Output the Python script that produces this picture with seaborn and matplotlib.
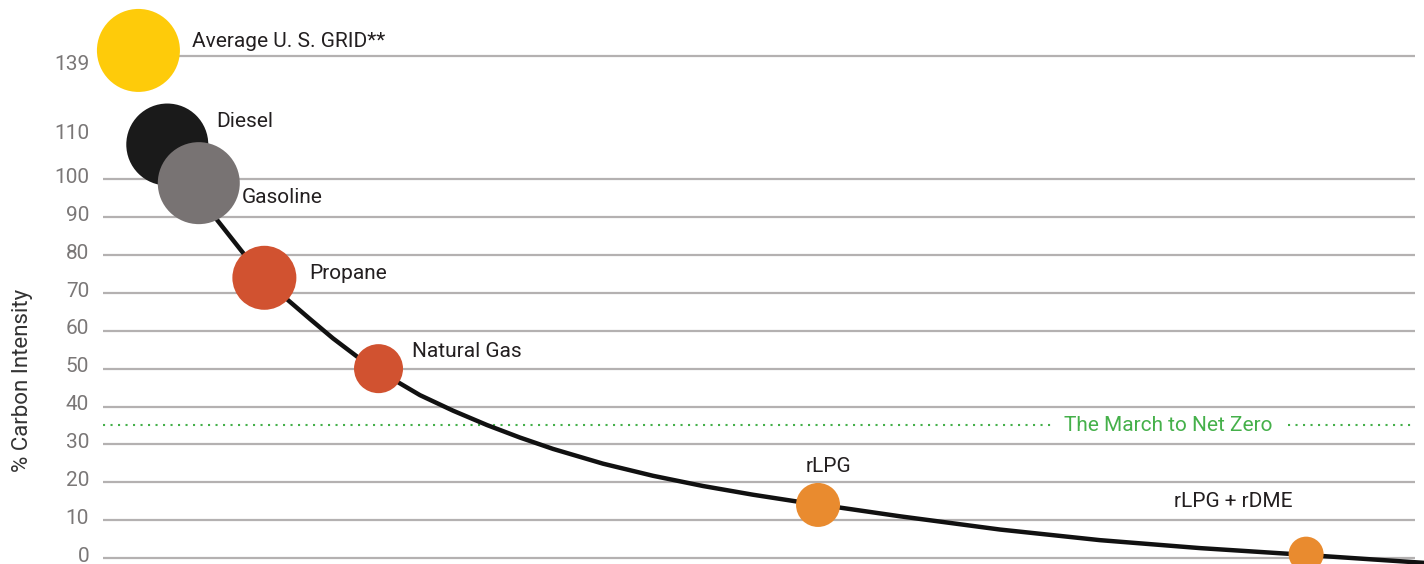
import numpy as np
import pandas as pd
import matplotlib
matplotlib.use("Agg")
import matplotlib.pyplot as plt
import matplotlib.transforms as mtransforms
import seaborn as sns

# --- data -------------------------------------------------------------
fuels = ["Average U. S. GRID**", "Diesel", "Gasoline", "Propane",
         "Natural Gas", "rLPG", "rLPG + rDME"]
fuel_x = [2.7, 4.9, 7.3, 12.3, 21.0, 54.5, 91.7]          # position along the path to net zero
carbon_intensity = [141, 108, 99, 74, 50, 14, 1]           # % carbon intensity

# trend curve traced through the fuels
curve_x = [4.88, 7.32, 8.69, 10.67, 12.35, 14.10, 15.78, 17.53, 19.36, 20.96,
           22.64, 24.16, 26.68, 29.27, 31.78, 34.30, 38.11, 41.92, 45.73,
           49.54, 52.90, 54.50, 56.17, 60.75, 68.37, 75.99, 83.61, 91.69,
           96.80, 99.85, 100.69]
curve_y = [108, 99, 89.3, 80.6, 74, 68.1, 63.1, 58.0, 53.2, 49.6,
           46.1, 43.0, 38.9, 35.1, 31.8, 28.8, 24.9, 21.7, 19.0,
           16.7, 14.9, 14.1, 13.3, 11.0, 7.5, 4.7, 2.6, 0.8,
           -0.4, -1.1, -1.3]

ytick_values = [0, 10, 20, 30, 40, 50, 60, 70, 80, 90, 100, 110, 139]
grid_levels = [0, 10, 20, 30, 40, 50, 60, 70, 80, 90, 100, 139]
net_zero_level = 35
net_zero_label = "The March to Net Zero"
y_label = "% Carbon Intensity"

# --- styling ------------------------------------------------------------
colors = {
    "Average U. S. GRID**": "#FECB0A",
    "Diesel": "#1A1A1A",
    "Gasoline": "#787373",
    "Propane": "#D15230",
    "Natural Gas": "#D15230",
    "rLPG": "#E98B2F",
    "rLPG + rDME": "#E98B2F",
}
bubble_diam_px = {
    "Average U. S. GRID**": 83, "Diesel": 82, "Gasoline": 82, "Propane": 64,
    "Natural Gas": 49, "rLPG": 44, "rLPG + rDME": 35,
}
# label offsets in points, alignment
label_style = {
    "Average U. S. GRID**": (38.5, 6.5, "left"),
    "Diesel": (35, 16.5, "left"),
    "Gasoline": (31, -10.4, "left"),
    "Propane": (32.4, 3.2, "left"),
    "Natural Gas": (23.8, 12.5, "left"),
    "rLPG": (7.2, 27.8, "center"),
    "rLPG + rDME": (-52.6, 37.8, "center"),
}
text_color = "#231F20"
tick_color = "#7A7777"
grid_color = "#B4B1B1"
green = "#45B04A"

sns.set_theme(style="white")
plt.rcParams["font.family"] = ["Roboto", "DejaVu Sans"]

df = pd.DataFrame({"fuel": fuels, "x": fuel_x, "ci": carbon_intensity})
curve = pd.DataFrame({"x": curve_x, "ci": curve_y})

W, H = 1424, 564
fig = plt.figure(figsize=(W / 100, H / 100), dpi=100)
ax = fig.add_axes([103 / W, 0, (1415 - 103) / W, 1])

# compressed upper section of the y axis
knots_v = np.array([-50, 0, 100, 110, 139, 200])
knots_d = np.array([-50, 0, 100, 111.5, 132.6, 177.0])
ax.set_yscale("function",
              functions=(lambda v: np.interp(v, knots_v, knots_d),
                         lambda d: np.interp(d, knots_d, knots_v)))
ax.set_xlim(0, 100)
ax.set_ylim(-1.6, 159.3)

for lvl in grid_levels:
    ax.axhline(lvl, color=grid_color, lw=1.6, zorder=2)

ax.axhline(net_zero_level, color=green, lw=1.5, ls=(0, (1, 2.6)), zorder=1)
ax.text(81.2, net_zero_level, net_zero_label, color=green, fontsize=15,
        ha="center", va="center", zorder=1.5,
        bbox=dict(facecolor="white", edgecolor="none", pad=7.5))

sns.lineplot(data=curve, x="x", y="ci", ax=ax, color="#111111", lw=3.2,
             sort=False, estimator=None, zorder=3, clip_on=False,
             solid_joinstyle="round", solid_capstyle="round")

sizes = [(bubble_diam_px[f] * 0.72) ** 2 for f in fuels]
sns.scatterplot(data=df, x="x", y="ci", hue="fuel", palette=colors, s=sizes,
                linewidth=0, legend=False, ax=ax, zorder=4, clip_on=False)

for f, x, y in zip(fuels, fuel_x, carbon_intensity):
    dx, dy, ha = label_style[f]
    ax.annotate(f, (x, y), xytext=(dx, dy), textcoords="offset points",
                ha=ha, va="center", fontsize=15, color=text_color, zorder=5)

ax.set_yticks(ytick_values)
ax.set_yticklabels([str(v) for v in ytick_values])
ax.tick_params(axis="y", length=0, pad=10, labelsize=15, labelcolor=tick_color)
# nudge the tick labels slightly off their gridlines
for val, lab in zip(ytick_values, ax.get_yticklabels()):
    shift = -5 / 72 if val == 139 else 2.8 / 72
    lab.set_transform(lab.get_transform() +
                      mtransforms.ScaledTranslation(0, shift, fig.dpi_scale_trans))
ax.set_xticks([])
ax.set_xlabel("")
ax.set_ylabel(y_label, fontsize=16, color="#333333")
ax.yaxis.set_label_coords(-70 / (1415 - 103), (564 - 380) / 564)
for s in ax.spines.values():
    s.set_visible(False)
ax.patch.set_alpha(0)

fig.savefig("out.png", dpi=100)
